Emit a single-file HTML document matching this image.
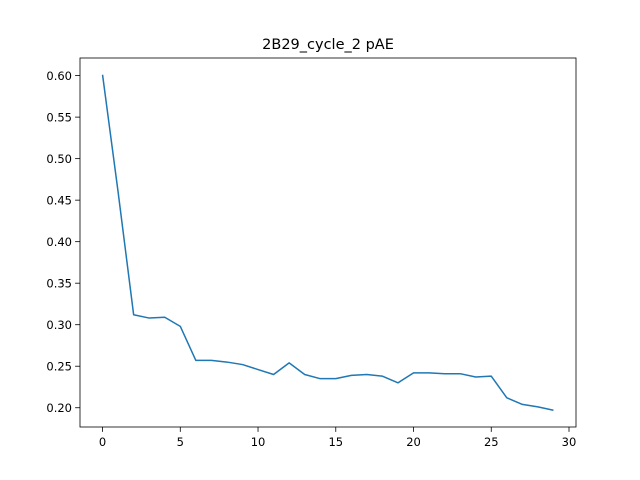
<!DOCTYPE html>
<html><head><meta charset="utf-8"><style>
body{margin:0;background:#fff;}
svg{display:block;font-family:"DejaVu Sans","Liberation Sans",sans-serif;}
</style></head><body>
<svg id="chart" width="640" height="480"></svg>
<script>
const xValues=[0,1,2,3,4,5,6,7,8,9,10,11,12,13,14,15,16,17,18,19,20,21,22,23,24,25,26,27,28,29];
const yValues=[0.601,0.46,0.312,0.308,0.309,0.298,0.257,0.257,0.255,0.252,0.246,0.240,0.254,0.240,0.235,0.235,0.239,0.240,0.238,0.230,0.242,0.242,0.241,0.241,0.237,0.238,0.212,0.204,0.201,0.197];
const xTicks=[0,5,10,15,20,25,30];
const yTicks=[0.20,0.25,0.30,0.35,0.40,0.45,0.50,0.55,0.60];
const NS="http://www.w3.org/2000/svg";
const svg=document.getElementById('chart');
const L=80,R=576,T=58,B=427;
const xmin=Math.min(...xValues),xmax=Math.max(...xValues),xm=(xmax-xmin)*0.05;
const ymin=Math.min(...yValues),ymax=Math.max(...yValues),ym=(ymax-ymin)*0.05;
const sx=v=>L+(v-(xmin-xm))/((xmax+xm)-(xmin-xm))*(R-L);
const sy=v=>B-(v-(ymin-ym))/((ymax+ym)-(ymin-ym))*(B-T);
function mk(tag,attrs,parent){const e=document.createElementNS(NS,tag);for(const k in attrs)e.setAttribute(k,attrs[k]);(parent||svg).appendChild(e);return e;}
const title=mk('text',{x:(L+R)/2,y:49,'text-anchor':'middle','font-size':'14.5',fill:'#000'});
title.textContent='2B29_cycle_2 pAE';


const pts=xValues.map((x,i)=>sx(x).toFixed(2)+','+sy(yValues[i]).toFixed(2)).join(' ');
const line=mk('polyline',{points:pts,fill:'none',stroke:'#1f77b4','stroke-width':'1.5','stroke-linejoin':'round'});


const frame=mk('rect',{x:L,y:T,width:R-L,height:B-T,fill:'none',stroke:'#000','stroke-width':'0.8'});


xTicks.forEach(t=>{const x=sx(t);
 const tk=mk('line',{x1:x,x2:x,y1:B,y2:B+4.9,stroke:'#000','stroke-width':'0.8'});
 
 
 const tx=mk('text',{x:x,y:B+19,'text-anchor':'middle','font-size':'11.5',fill:'#000'});
 tx.textContent=t;
 
 
});
yTicks.forEach(t=>{const y=sy(t);
 const tk=mk('line',{x1:L-4.9,x2:L,y1:y,y2:y,stroke:'#000','stroke-width':'0.8'});
 
 
 const tx=mk('text',{x:L-8,y:y+4.2,'text-anchor':'end','font-size':'11.5',fill:'#000'});
 tx.textContent=t.toFixed(2);
 
 
});
</script>
</body></html>
